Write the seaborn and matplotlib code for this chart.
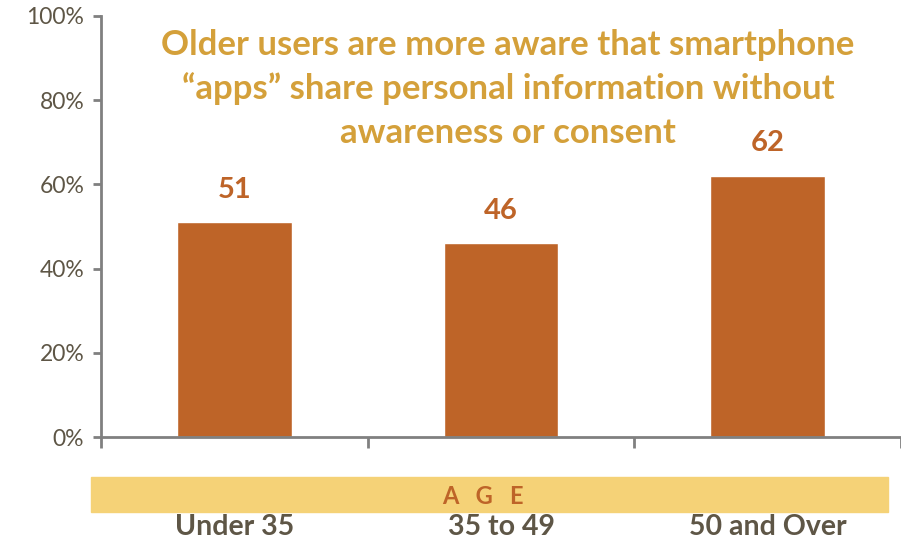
import matplotlib
matplotlib.use("Agg")
import matplotlib.pyplot as plt
from matplotlib.patches import Rectangle
from matplotlib.ticker import FuncFormatter
import seaborn as sns
import pandas as pd

# data
categories = ["Under 35", "35 to 49", "50 and Over"]
values = [51, 46, 62]
title_lines = ["Older users are more aware that smartphone",
               "\u201capps\u201d share personal information without",
               "awareness or consent"]

bar_color = "#BE6428"
title_color = "#D4A03A"
text_color = "#5E5646"
axis_color = "#808080"

sns.set_style("white")
plt.rcParams["font.family"] = ["Lato", "DejaVu Sans"]

df = pd.DataFrame({"age": categories, "pct": values})

fig = plt.figure(figsize=(9.01, 5.42), dpi=100)
ax = fig.add_axes([0.1121, 0.1937, 0.888, 0.777])

sns.barplot(data=df, x="age", y="pct", color=bar_color, width=0.43,
            saturation=1, ax=ax)

ax.set_ylim(0, 100)
ax.set_xlim(-0.5, 2.5)
ax.set_yticks([0, 20, 40, 60, 80, 100])
ax.yaxis.set_major_formatter(FuncFormatter(lambda v, p: f"{int(v)}%"))
ax.set_xticks([-0.5, 0.5, 1.5, 2.5])
ax.set_xticklabels([])
ax.set_xlabel("")
ax.set_ylabel("")

for s in ["top", "right"]:
    ax.spines[s].set_visible(False)
for s in ["left", "bottom"]:
    ax.spines[s].set_color(axis_color)
    ax.spines[s].set_linewidth(2)
ax.tick_params(axis="y", length=6, width=2, color=axis_color, labelsize=16.5,
               labelcolor=text_color, pad=6, left=True)
ax.tick_params(axis="x", length=8, width=2, color=axis_color, bottom=True)

# value labels
ax.bar_label(ax.containers[0], labels=[str(v) for v in values], padding=14,
             color=bar_color, fontsize=21, fontweight="bold")

# title inside plot, one text per line
for k, line in enumerate(title_lines):
    ax.text(1.026, 93.2 - k * 10.5, line, ha="center", va="center",
            color=title_color, fontsize=25, fontweight="bold")

# age band
fig.patches.append(Rectangle((91 / 901, 1 - 512 / 542), 797 / 901, 35 / 542,
                             transform=fig.transFigure, color="#F5D277",
                             zorder=0))
fig.text(483 / 901, 1 - 496 / 542, "A   G   E", ha="center", va="center",
         color=bar_color, fontsize=17, fontweight="bold")

# category labels
for i, c in enumerate(categories):
    ax.text(i, -0.214, c, transform=ax.get_xaxis_transform(), ha="center",
            va="center", color=text_color, fontsize=20.5, fontweight="bold",
            clip_on=False)

fig.savefig("out.png", dpi=100)
